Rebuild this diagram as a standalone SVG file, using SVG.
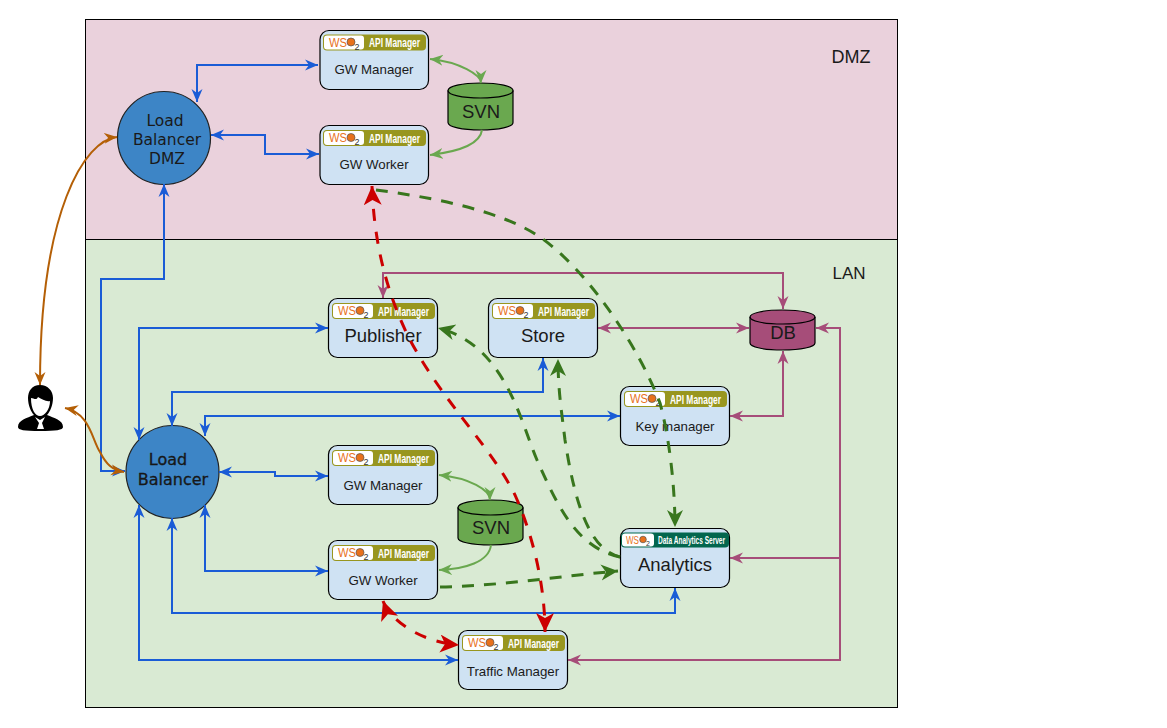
<svg xmlns="http://www.w3.org/2000/svg" width="1167" height="728" viewBox="0 0 1167 728">
<style>
text{font-family:"Liberation Sans",Arial,sans-serif;fill:#1a1a1a}
.box{fill:#cfe2f3;stroke:#000;stroke-width:1.2}
.n{font-size:13.300px;text-anchor:middle}
.b{font-size:18.500px;text-anchor:middle}
.lb{fill:#3d85c6;stroke:#222;stroke-width:1.200}
.lbt{font-family:"DejaVu Sans",sans-serif;font-size:15.500px;text-anchor:middle}
.db{stroke:#000;stroke-width:1.2}
.c{fill:none;stroke-width:2}
.bl{stroke:#1a5cd6;marker-start:url(#mb);marker-end:url(#mb)}
.pu{stroke:#a64d79;marker-start:url(#mp);marker-end:url(#mp)}
.lg{stroke:#6aa84f;marker-start:url(#ml);marker-end:url(#ml)}
.br{stroke:#b45f06;marker-start:url(#mo);marker-end:url(#mo)}
.dg{stroke:#38761d;stroke-width:3;stroke-dasharray:12 10;marker-end:url(#md)}
.rd{stroke:#cc0000;stroke-width:3;stroke-dasharray:12 11;marker-start:url(#mr);marker-end:url(#mr)}
.wt{font-size:12px;fill:#fff;font-weight:bold}
.ws{fill:#e8711c}
</style>
<defs>
<marker id="mb" markerUnits="userSpaceOnUse" markerWidth="16" markerHeight="14" refX="13" refY="6" orient="auto-start-reverse"><path d="M0,.5L13,6L0,11.500L4,6Z" fill="#1a5cd6"/></marker>
<marker id="mp" markerUnits="userSpaceOnUse" markerWidth="16" markerHeight="14" refX="13" refY="6" orient="auto-start-reverse"><path d="M0,.5L13,6L0,11.500L4,6Z" fill="#a64d79"/></marker>
<marker id="ml" markerUnits="userSpaceOnUse" markerWidth="16" markerHeight="14" refX="13" refY="6" orient="auto-start-reverse"><path d="M0,.5L13,6L0,11.500L4,6Z" fill="#6aa84f"/></marker>
<marker id="mo" markerUnits="userSpaceOnUse" markerWidth="16" markerHeight="14" refX="13" refY="6" orient="auto-start-reverse"><path d="M0,.5L13,6L0,11.500L4,6Z" fill="#b45f06"/></marker>
<marker id="md" markerUnits="userSpaceOnUse" markerWidth="20" markerHeight="18" refX="17" refY="8" orient="auto-start-reverse"><path d="M0,0L17,8L0,16L5,8Z" fill="#38761d"/></marker>
<marker id="mr" markerUnits="userSpaceOnUse" markerWidth="22" markerHeight="20" refX="19" refY="9" orient="auto-start-reverse"><path d="M0,0L19,9L0,18L5,9Z" fill="#cc0000"/></marker>
<g id="badge">
<rect x="0" y="0" width="103" height="16" rx="4" fill="#98961f"/>
<rect x="1" y="1" width="40" height="14" rx="3" fill="#fff"/>
<text x="6" y="12" font-size="12" class="ws" textLength="18" lengthAdjust="spacingAndGlyphs">WS</text>
<circle cx="28" cy="7.500" r="4" fill="#e8711c" stroke="#555" stroke-width=".7"/>
<text x="31.500" y="15" font-size="9" style="fill:#333">2</text>
<text x="46" y="12.500" class="wt" textLength="51" lengthAdjust="spacingAndGlyphs">API Manager</text>
</g>
<g id="badgeD">
<rect x="0" y="0" width="108" height="15" rx="4" fill="#03664e"/>
<rect x="1" y="1" width="32" height="13" rx="3" fill="#fff"/>
<text x="5" y="11" font-size="10" class="ws" textLength="13" lengthAdjust="spacingAndGlyphs">WS</text>
<circle cx="22" cy="7" r="3.300" fill="#e8711c" stroke="#555" stroke-width=".7"/>
<text x="25" y="13.500" font-size="7" style="fill:#333">2</text>
<text x="37" y="11.500" class="wt" font-size="11" style="font-size:11px" textLength="67" lengthAdjust="spacingAndGlyphs">Data Analytics Server</text>
</g>
</defs>
<rect width="1167" height="728" fill="#fff"/>
<g id="zones">
<rect x="85.500" y="19.500" width="812" height="220" fill="#ead1dc" stroke="#000"/>
<rect x="85.500" y="239.500" width="812" height="468" fill="#d9ead3" stroke="#000"/>
<text x="851" y="63" font-size="18" text-anchor="middle">DMZ</text>
<text x="849" y="279" font-size="17" text-anchor="middle">LAN</text>
</g>
<g id="lbdmz"><circle class="lb" cx="164" cy="138" r="46.500"/><text class="lbt" x="165" y="126">Load</text><text class="lbt" x="167" y="145">Balancer</text><text class="lbt" x="167" y="164">DMZ</text></g>
<g id="lblan"><circle class="lb" cx="172.500" cy="472" r="46.500"/><text class="lbt" x="168" y="465" style="font-size:16px" stroke="#111" stroke-width=".3">Load</text><text class="lbt" x="173" y="485" style="font-size:16px" stroke="#111" stroke-width=".3">Balancer</text></g>
<g id="gwm1"><rect class="box" x="320" y="30.500" width="108.500" height="59" rx="9"/><use href="#badge" x="323" y="34.500"/><text class="n" x="374" y="74">GW Manager</text></g>
<g id="gww1"><rect class="box" x="320" y="125.500" width="108.500" height="59" rx="9"/><use href="#badge" x="323" y="130"/><text class="n" x="374" y="169">GW Worker</text></g>
<g id="pub"><rect class="box" x="328.500" y="298.500" width="109" height="59" rx="9"/><use href="#badge" x="332" y="303"/><text class="b" x="383" y="342">Publisher</text></g>
<g id="store"><rect class="box" x="488.500" y="298.500" width="109" height="59" rx="9"/><use href="#badge" x="492" y="303"/><text class="b" x="543" y="342">Store</text></g>
<g id="key"><rect class="box" x="620.500" y="386.500" width="109" height="59" rx="9"/><use href="#badge" x="624" y="391"/><text class="n" x="675" y="431">Key manager</text></g>
<g id="gwm2"><rect class="box" x="328.500" y="445.500" width="109" height="59" rx="9"/><use href="#badge" x="332" y="450"/><text class="n" x="383" y="490">GW Manager</text></g>
<g id="gww2"><rect class="box" x="328.500" y="540.500" width="109" height="59" rx="9"/><use href="#badge" x="332" y="545"/><text class="n" x="383" y="585">GW Worker</text></g>
<g id="ana"><rect class="box" x="620.500" y="528.500" width="109" height="59" rx="9"/><use href="#badgeD" x="621" y="532.500"/><text class="b" x="675" y="571">Analytics</text></g>
<g id="tm"><rect class="box" x="458.500" y="630.500" width="109" height="59" rx="9"/><use href="#badge" x="462" y="635"/><text class="n" x="513" y="676">Traffic Manager</text></g>
<g id="svn1"><path class="db" fill="#6aa84f" d="M448,90.500C448,86 462,83 480.500,83S513,86 513,90.500V122.500C513,127 499,130 480.500,130S448,127 448,122.500Z"/><path class="db" fill="none" d="M448,90.500C448,95 462,98 480.500,98S513,95 513,90.500"/><text class="b" x="481" y="118">SVN</text></g>
<g id="svn2"><path class="db" fill="#6aa84f" d="M458,507.500C458,503 472,500 490.500,500S523,503 523,507.500V538C523,542 509,545 490.500,545S458,542 458,538Z"/><path class="db" fill="none" d="M458,507.500C458,512 472,515 490.500,515S523,512 523,507.500"/><text class="b" x="491" y="534">SVN</text></g>
<g id="db"><path class="db" fill="#a64d79" d="M750,317C750,313 764,310 782.500,310S815,313 815,317V343C815,347 801,350 782.500,350S750,347 750,343Z"/><path class="db" fill="none" d="M750,317C750,321 764,324 782.500,324S815,321 815,317"/><text class="b" x="783" y="339">DB</text></g>
<g id="user">
<path fill="#000" d="M40,385C32,385 28,391 28,398C28,405 31,412 34,415C27,418 18,420 18,427C18,430 24,431 40,431S63,430 63,427C63,420 54,418 47,415C50,412 53,405 53,398C53,391 48,385 40,385Z"/>
<path fill="#fff" d="M31,398C34,398 36,401 38,397C42,399 46,402 50,401C50,409 45,416 40,416C35,416 31,409 31,398ZM35,417L40,420L45,417L42,423L44,429H37L39,423Z"/>
</g>
<g id="connectors">
<path class="c bl" d="M197,102V65H318"/>
<path class="c bl" d="M211,135H265V154H319"/>
<path class="c bl" d="M164,184V279H101V471H125"/>
<path class="c bl" d="M139,440V328H328"/>
<path class="c bl" d="M172,426V392H543V358"/>
<path class="c bl" d="M205,436V416H620"/>
<path class="c bl" d="M219,472H275V476H328"/>
<path class="c bl" d="M205,505V571H328"/>
<path class="c bl" d="M172,518V613H675V588"/>
<path class="c bl" d="M139,505V660H458"/>
<path class="c pu" d="M383,298V273H783V309"/>
<path class="c pu" d="M598,328H749"/>
<path class="c pu" d="M730,416H783V351"/>
<path class="c pu" d="M816,328H840V558H730"/>
<path class="c pu" style="marker-start:none" d="M840,328V660H568"/>
<path class="c lg" d="M430,59C460,62 481,75 481,83"/>
<path class="c lg" style="marker-start:none" d="M482,130C480,145 455,152 430,155"/>
<path class="c lg" d="M439,475C470,478 490,490 490,500"/>
<path class="c lg" style="marker-start:none" d="M491,545C489,562 465,569 439,570"/>
<path class="c br" d="M117,137C85,140 40,210 40,385"/>
<path class="c br" d="M65,408C90,413 92,440 100,452C106,464 112,470 124,472"/>
<path class="c rd" d="M372,186C374,240 385,290 410,340C445,405 490,445 515,495C535,540 545,590 545,632"/>
<path class="c rd" d="M383,601C390,620 420,642 459,645"/>
<path class="c dg" d="M376,190C430,197 500,210 540,237C590,272 640,350 660,403C670,440 675,490 675,527"/>
<path class="c dg" d="M620,557C575,548 555,500 537,460C520,420 505,345 438,328"/>
<path class="c dg" d="M620,557C590,550 575,505 565,440C562,415 558,390 558,359"/>
<path class="c dg" d="M440,587C500,586 560,576 618,571"/>
</g>
</svg>
